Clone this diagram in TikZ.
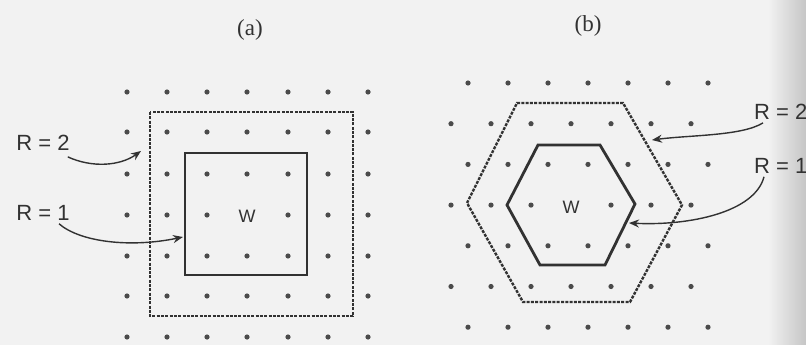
\documentclass[tikz,border=0pt]{standalone}
\usepackage{fontspec}
\setmainfont{Liberation Serif}
\newfontfamily\lblfont{Liberation Sans}
\usetikzlibrary{arrows.meta,calc}
\definecolor{bgcol}{RGB}{242,242,242}
\definecolor{inkcol}{RGB}{50,50,50}
\definecolor{dotcol}{RGB}{75,75,75}
\begin{document}
\begin{tikzpicture}[x=1pt,y=-1pt,
  dotmark/.style={fill=dotcol},
  boundary/.style={draw=inkcol,line width=2.8pt,line join=miter},
  dashbound/.style={draw=inkcol,line width=2.4pt,dash pattern=on 3pt off 1.3pt},
  rlabel/.style={font=\lblfont\fontsize{22}{25}\selectfont,text=inkcol,inner sep=0pt},
  wlabel/.style={font=\lblfont\fontsize{18}{20}\selectfont,text=inkcol,inner sep=0pt},
  caption/.style={font=\fontsize{23}{26}\selectfont,text=inkcol,inner sep=0pt},
  pointer/.style={draw=inkcol,line width=1.4pt,-{Stealth[length=10pt,width=8pt]}}]
\useasboundingbox (0,0) rectangle (806,345);
\fill[bgcol] (0,0) rectangle (806,345);
\shade[left color=bgcol,right color=gray!45] (768,0) rectangle (806,345);

% ---------- panel (a) ----------
\foreach \cx in {127,167,207,247,288,328,368}{
  \foreach \cy in {92,132,174,215,256,296,337}{
    \ifnum\cx=247 \ifnum\cy=215 \else \fill[dotmark] (\cx,\cy) circle (2.6pt);\fi
    \else \fill[dotmark] (\cx,\cy) circle (2.6pt);\fi
  }}
\draw[dashbound] (150,112) rectangle (353,316);
\draw[boundary] (185,153) rectangle (307,275);
\node[wlabel] (wa) at (247,216) {W};
\node[caption] (capa) at (250,30) {(a)};
\node[rlabel] (r2a) at (43,143) {R = 2};
\node[rlabel] (r1a) at (43,213) {R = 1};
\coordinate (ta2) at (141,151);
\coordinate (ta1) at (183,237);
\draw[pointer] ([xshift=-2pt,yshift=-6pt]r2a.south east) .. controls (92,168) and (120,166) .. (ta2);
\draw[pointer] ([xshift=16pt,yshift=-3pt]r1a.south) .. controls (80,242) and (130,248) .. (ta1);

% ---------- panel (b) ----------
\foreach \k in {0,2,4,6}{
  \foreach \i in {0,...,6}{
    \fill[dotmark] ({468+40*\i},{83+40.7*\k}) circle (2.6pt);
  }}
\foreach \k in {1,3,5}{
  \foreach \i in {0,...,6}{
    \ifnum\k=3 \ifnum\i=3 \else \fill[dotmark] ({451+40*\i},{83+40.7*\k}) circle (2.6pt);\fi
    \else \fill[dotmark] ({451+40*\i},{83+40.7*\k}) circle (2.6pt);\fi
  }}
\draw[dashbound] (467,203) -- (517,103) -- (623,103) -- (682,205) -- (630,302) -- (523,302) -- cycle;
\draw[boundary] (507,205) -- (538,145) -- (600,145) -- (635,204) -- (605,265) -- (540,265) -- cycle;
\node[wlabel] (wb) at (571,207) {W};
\node[caption] (capb) at (588,26) {(b)};
\node[rlabel,anchor=west] (r2b) at (754,112) {R = 2};
\node[rlabel,anchor=west] (r1b) at (754,166) {R = 1};
\coordinate (tb2) at (652,140);
\coordinate (tb1) at (629,223);
\draw[pointer] ([xshift=9pt,yshift=-3pt]r2b.south west) .. controls (742,136) and (690,135) .. (tb2);
\draw[pointer] ([xshift=10pt,yshift=-3pt]r1b.south west) .. controls (755,212) and (690,226) .. (tb1);
\end{tikzpicture}
\end{document}
